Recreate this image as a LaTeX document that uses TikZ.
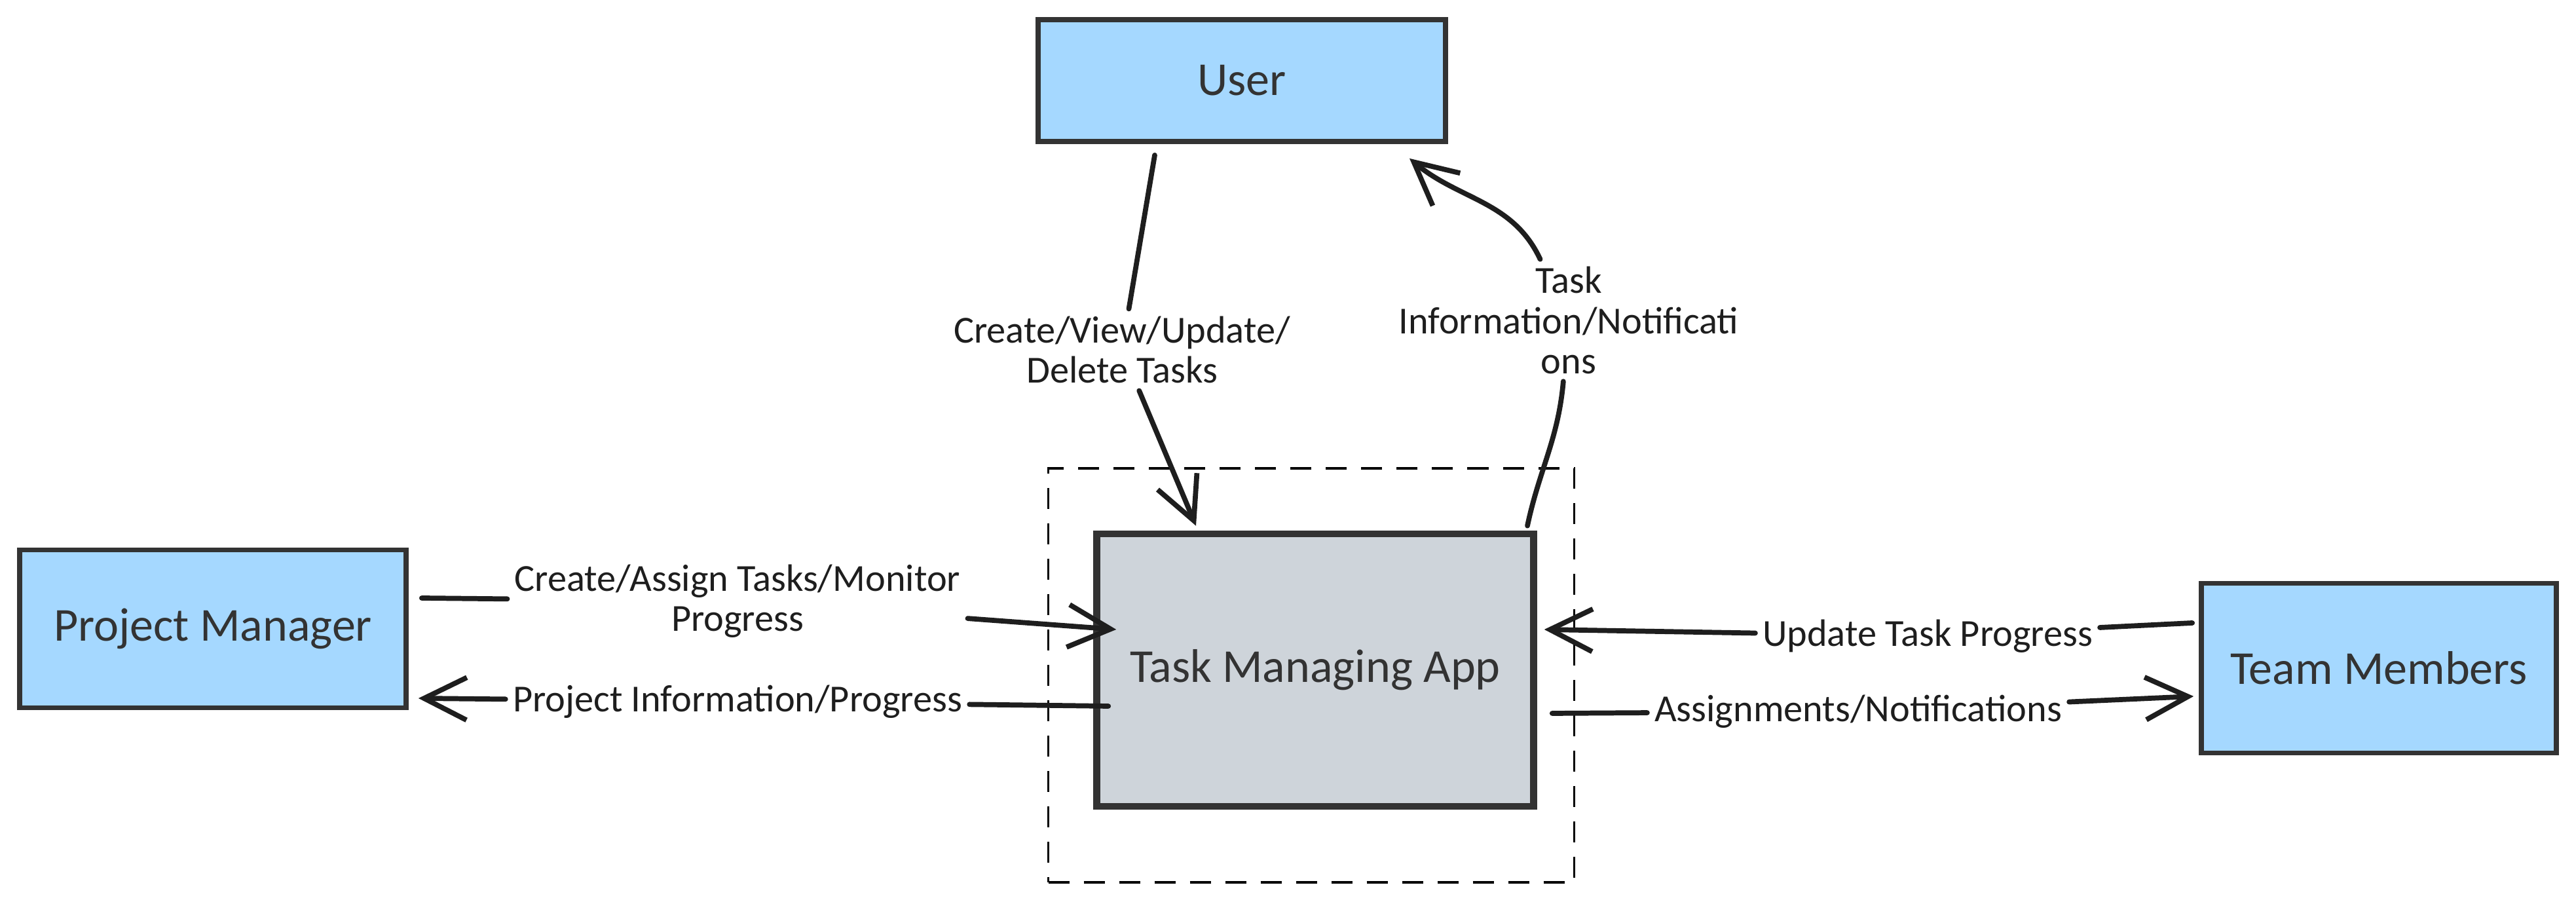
\documentclass[tikz,border=0pt]{standalone}
\usepackage{fontspec}
\setmainfont{Carlito}
\usetikzlibrary{calc,arrows.meta}
\definecolor{inkdark}{HTML}{1E1E1E}
\definecolor{boxline}{HTML}{333333}
\definecolor{skyfill}{HTML}{A5D8FF}
\definecolor{appfill}{HTML}{CED4DA}
\tikzset{
  actorbox/.style={draw=boxline, line width=2.2pt, fill=skyfill, text=boxline, font={\fontsize{20.5}{24}\selectfont}},
  appbox/.style={draw=boxline, line width=3pt, fill=appfill, text=boxline, font={\fontsize{20.5}{24}\selectfont}},
  flowlabel/.style={align=center, text=inkdark, font={\fontsize{16.6}{17.5}\selectfont}, inner sep=3pt},
  flow/.style={draw=inkdark, line width=2.2pt, line cap=round, -{Straight Barb[length=6.5mm,width=6.5mm]}},
}

\begin{document}
\begin{tikzpicture}
  %%%%% START %%%%%
  \useasboundingbox (0,0) rectangle (39.33,13.77);

  \node[draw=black, line width=1.1pt, dash pattern=on 0.32cm off 0.22cm, minimum width=8.03cm, minimum height=6.32cm] (frame) at (20.02,3.46) {};

  \node[actorbox, minimum width=6.22cm, minimum height=1.86cm] (user) at (18.96,12.54) {User};
  \node[actorbox, minimum width=5.9cm, minimum height=2.41cm] (pm) at (3.25,4.17) {Project Manager};
  \node[appbox, minimum width=6.67cm, minimum height=4.16cm] (app) at (20.08,3.54) {Task Managing App};
  \node[actorbox, minimum width=5.42cm, minimum height=2.59cm] (tm) at (36.32,3.57) {Team Members};

  \node[flowlabel] (lcreate) at (17.13,8.43) {Create/View/Update/\\Delete Tasks};
  \node[flowlabel] (linfo) at (23.95,8.88) {Task\\Information/Notificati\\ons};
  \node[flowlabel] (lassign) at (11.26,4.59) {Create/Assign Tasks/Monitor\\Progress};
  \node[flowlabel] (lproj) at (11.26,3.06) {Project Information/Progress};
  \node[flowlabel] (lupd) at (29.43,4.06) {Update Task Progress};
  \node[flowlabel] (lasg) at (28.37,2.91) {Assignments/Notifications};

  \draw[flow] ($(user.south)+(-1.33,-0.17)$) -- (lcreate) -- ($(app.north)+(-1.82,0.07)$);
  \draw[flow] ($(app.north)+(3.24,0.07)$) to[out=78,in=-95] (linfo) to[out=115,in=-40] ($(user.south)+(2.56,-0.22)$);

  \draw[flow] ($(pm.east)+(0.2,0.47)$) -- (lassign) -- ($(app.west)+(0.35,0.62)$);
  \draw[flow] ($(app.west)+(0.23,-0.55)$) -- (lproj) -- ($(pm.east)+(0.15,-1.06)$);
  \draw[flow] ($(tm.west)+(-0.1,0.69)$) -- (lupd) -- ($(app.east)+(0.11,0.62)$);
  \draw[flow] ($(app.east)+(0.23,-0.66)$) -- (lasg) -- ($(tm.west)+(-0.08,-0.43)$);
  %%%%% END %%%%%
\end{tikzpicture}
\end{document}
